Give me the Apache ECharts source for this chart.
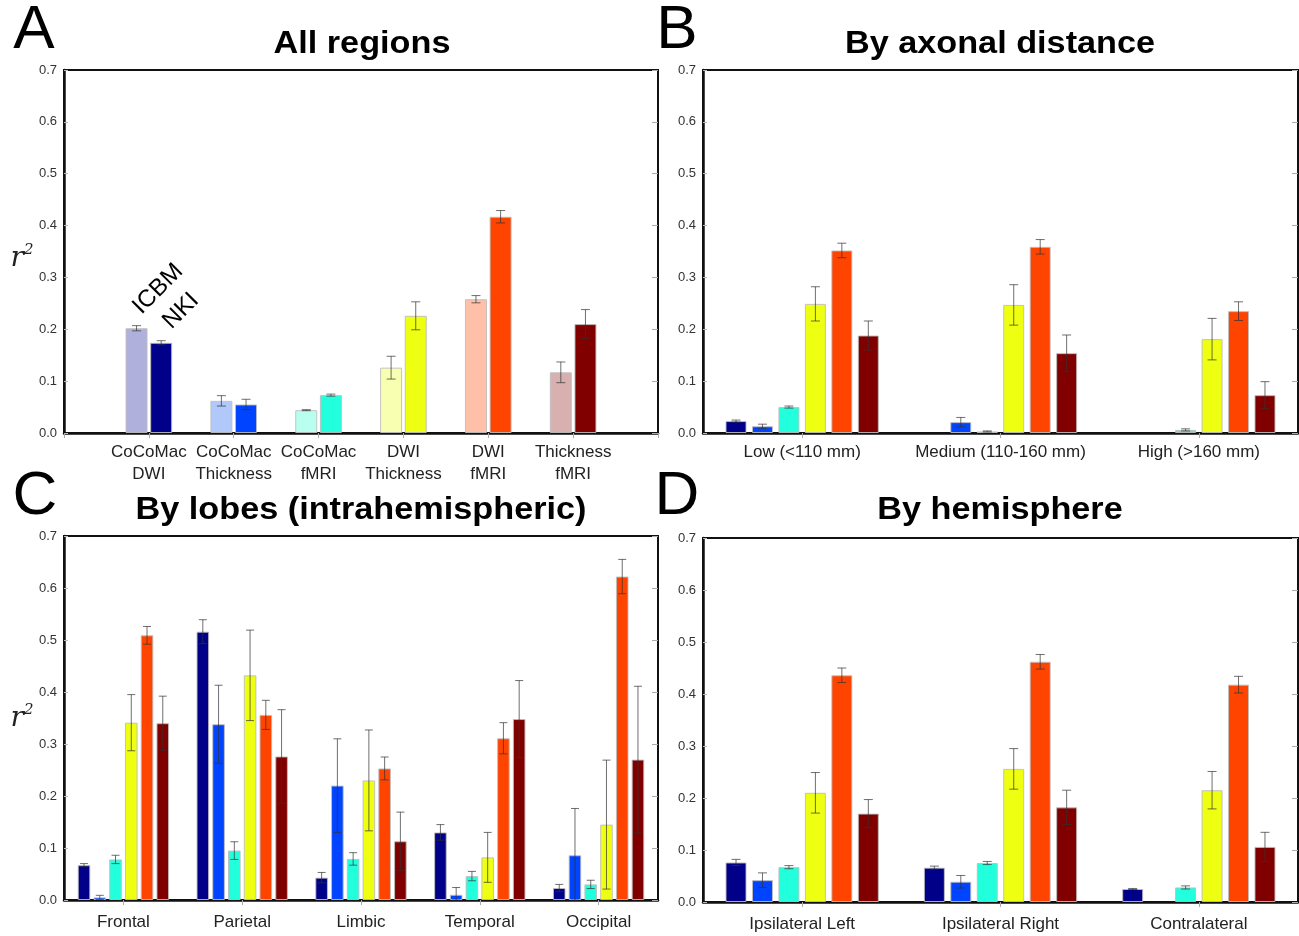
<!DOCTYPE html>
<html>
<head>
<meta charset="utf-8">
<script src="https://cdn.jsdelivr.net/npm/echarts@6/dist/echarts.min.js"></script>
<style>html,body{margin:0;padding:0;background:#fff;}#c{width:1299px;height:936px;}</style>
</head>
<body>
<div id="c"></div>
<script>
// ---------- DATA ----------
const catsA = ['CoCoMac\nDWI', 'CoCoMac\nThickness', 'CoCoMac\nfMRI', 'DWI\nThickness', 'DWI\nfMRI', 'Thickness\nfMRI'];
const icbmA    = [0.202, 0.062, 0.044, 0.126, 0.258, 0.117];
const icbmErrA = [0.005, 0.010, 0.001, 0.022, 0.007, 0.020];
const nkiA     = [0.174, 0.055, 0.073, 0.226, 0.417, 0.210];
const nkiErrA  = [0.004, 0.010, 0.002, 0.027, 0.012, 0.028];

const measures = ['CoCoMac-DWI', 'CoCoMac-Thickness', 'CoCoMac-fMRI', 'DWI-Thickness', 'DWI-fMRI', 'Thickness-fMRI'];

const catsB = ['Low (<110 mm)', 'Medium (110-160 mm)', 'High (>160 mm)'];
const valsB = [
  [0.023, 0.000, 0.000],
  [0.013, 0.021, 0.000],
  [0.050, 0.003, 0.006],
  [0.249, 0.247, 0.181],
  [0.352, 0.359, 0.235],
  [0.188, 0.154, 0.073]
];
const errsB = [
  [0.002, 0.000, 0.000],
  [0.004, 0.009, 0.000],
  [0.002, 0.001, 0.002],
  [0.033, 0.039, 0.040],
  [0.014, 0.014, 0.018],
  [0.028, 0.035, 0.026]
];

const catsC = ['Frontal', 'Parietal', 'Limbic', 'Temporal', 'Occipital'];
const valsC = [
  [0.067, 0.516, 0.043, 0.130, 0.023],
  [0.005, 0.338, 0.220, 0.010, 0.086],
  [0.078, 0.095, 0.079, 0.046, 0.030],
  [0.341, 0.432, 0.230, 0.082, 0.145],
  [0.509, 0.356, 0.253, 0.311, 0.622],
  [0.340, 0.276, 0.113, 0.348, 0.270]
];
const errsC = [
  [0.003, 0.023, 0.010, 0.015, 0.007],
  [0.004, 0.075, 0.090, 0.014, 0.090],
  [0.008, 0.017, 0.012, 0.009, 0.008],
  [0.054, 0.087, 0.097, 0.048, 0.124],
  [0.017, 0.028, 0.022, 0.030, 0.033],
  [0.052, 0.090, 0.056, 0.074, 0.141]
];

const catsD = ['Ipsilateral Left', 'Ipsilateral Right', 'Contralateral'];
const valsD = [
  [0.076, 0.066, 0.025],
  [0.042, 0.039, 0.000],
  [0.067, 0.075, 0.028],
  [0.210, 0.256, 0.215],
  [0.436, 0.462, 0.418],
  [0.170, 0.182, 0.106]
];
const errsD = [
  [0.006, 0.003, 0.001],
  [0.014, 0.012, 0.000],
  [0.003, 0.003, 0.003],
  [0.039, 0.039, 0.036],
  [0.014, 0.014, 0.016],
  [0.027, 0.033, 0.028]
];

// ---------- STYLE ----------
const nkiColors  = ['#000088', '#0044ff', '#22ffdd', '#eeff11', '#ff4400', '#800000'];
const icbmColors = ['#b0b0dc', '#b0c8fa', '#b8fff0', '#f8ffb0', '#ffc0aa', '#d8b0b0'];
const FONT = 'Liberation Sans, Arial, Helvetica, sans-serif';

const panels = [
  {grid: {left: 64, right: 641, top: 70, bottom: 503}, cats: [''].concat(catsA, ['']), gap: false, lm: 8},
  {grid: {left: 703, right: 1, top: 70, bottom: 503}, cats: catsB, gap: true, lm: 8},
  {grid: {left: 64, right: 641, top: 536, bottom: 36}, cats: catsC, gap: true, lm: 11},
  {grid: {left: 703, right: 1, top: 538, bottom: 34}, cats: catsD, gap: true, lm: 11}
];

const grids = [], xAxes = [], yAxes = [], series = [];

panels.forEach((p, i) => {
  grids.push(Object.assign({show: true, borderColor: '#111', borderWidth: 2, backgroundColor: '#fff', containLabel: false}, p.grid));
  xAxes.push({
    type: 'category', gridIndex: i, position: 'bottom', data: p.cats, boundaryGap: p.gap,
    axisLine: {show: true, lineStyle: {color: '#111', width: 2.5}},
    axisTick: {show: false},
    axisLabel: {interval: 0, fontFamily: FONT, fontSize: 17, color: '#222', margin: p.lm, lineHeight: 22},
    splitLine: {show: false}
  });
  xAxes.push({
    type: 'category', gridIndex: i, position: 'top', data: p.cats, boundaryGap: p.gap,
    axisLine: {show: false},
    axisTick: {show: true, inside: true, length: 5, alignWithLabel: true, interval: 0, lineStyle: {color: '#aaa'}},
    axisLabel: {show: false}, splitLine: {show: false}
  });
  yAxes.push({
    type: 'value', gridIndex: i, position: 'left', min: 0, max: 0.7, interval: 0.1,
    axisLine: {show: true, lineStyle: {color: '#111', width: 2.5}},
    axisTick: {show: true, inside: true, length: 4, lineStyle: {color: '#bbb'}},
    axisLabel: {fontFamily: FONT, fontSize: 13, color: '#333', margin: 7, formatter: v => v.toFixed(1)},
    splitLine: {show: false}
  });
  yAxes.push({
    type: 'value', gridIndex: i, position: 'right', min: 0, max: 0.7, interval: 0.1,
    axisLine: {show: false},
    axisTick: {show: true, inside: true, length: 6, lineStyle: {color: '#aaa'}},
    axisLabel: {show: false}, splitLine: {show: false}
  });
});

const barBorder = {borderColor: 'rgba(190,190,190,0.9)', borderWidth: 1};

function errSeries(panelIdx, data, n, pitch, cap) {
  return {
    type: 'custom', xAxisIndex: panelIdx * 2, yAxisIndex: panelIdx * 2, z: 5,
    encode: {x: 0, y: 1}, silent: true,
    data: data,
    renderItem: function (params, api) {
      const x0 = api.value(0), v = api.value(1), e = api.value(2), k = api.value(3);
      if (!(e > 0)) return null;
      const c = api.coord([x0, v]);
      const t = api.coord([x0, v + e]);
      const b = api.coord([x0, Math.max(0, v - e)]);
      const cx = c[0] + (k - (n - 1) / 2) * pitch;
      const st = {stroke: 'rgba(50,50,50,0.7)', lineWidth: 1};
      return {
        type: 'group', children: [
          {type: 'line', shape: {x1: cx, y1: t[1], x2: cx, y2: b[1]}, style: st},
          {type: 'line', shape: {x1: cx - cap / 2, y1: t[1], x2: cx + cap / 2, y2: t[1]}, style: st},
          {type: 'line', shape: {x1: cx - cap / 2, y1: b[1], x2: cx + cap / 2, y2: b[1]}, style: st}
        ]
      };
    }
  };
}

// Panel A: ICBM and NKI
series.push({
  type: 'bar', name: 'ICBM', xAxisIndex: 0, yAxisIndex: 0, barWidth: 22, barGap: '12%',
  data: icbmA.map((v, i) => ({value: [i + 1, v], itemStyle: Object.assign({color: icbmColors[i]}, barBorder)}))
});
series.push({
  type: 'bar', name: 'NKI', xAxisIndex: 0, yAxisIndex: 0, barWidth: 22, barGap: '12%',
  data: nkiA.map((v, i) => ({value: [i + 1, v], itemStyle: Object.assign({color: nkiColors[i]}, barBorder)}))
});
const errA = [];
icbmA.forEach((v, i) => errA.push([i + 1, v, icbmErrA[i], 0]));
nkiA.forEach((v, i) => errA.push([i + 1, v, nkiErrA[i], 1]));
series.push(errSeries(0, errA, 2, 22 * 1.12, 9));

// Panels B, C, D
[[1, valsB, errsB, 21, '26%'], [2, valsC, errsC, 12.6, '25%'], [3, valsD, errsD, 21, '26%']].forEach(cfg => {
  const [pi, vals, errs, bw, gapStr] = cfg;
  const gapFrac = parseFloat(gapStr) / 100;
  const errData = [];
  vals.forEach((arr, k) => {
    series.push({
      type: 'bar', name: measures[k], xAxisIndex: pi * 2, yAxisIndex: pi * 2,
      barWidth: bw, barGap: gapStr,
      itemStyle: Object.assign({color: nkiColors[k]}, barBorder),
      // a zero value draws no bar (no outline) as in the reference
      data: arr.map(v => (v > 0 ? v : '-'))
    });
    arr.forEach((v, j) => errData.push([j, v, errs[k][j], k]));
  });
  series.push(errSeries(pi, errData, 6, bw * (1 + gapFrac), pi === 2 ? 8 : 9));
});

// ---------- TEXT ----------
function txt(x, y, text, font, extra) {
  return Object.assign({type: 'text', x: x, y: y, z: 100, style: {text: text, font: font, fill: '#000', align: 'center', verticalAlign: 'middle', textAlign: 'center', textVerticalAlign: 'middle'}}, extra || {});
}
function rlabel(x, y) {
  return {type: 'text', x: x, y: y, z: 100, style: {
    text: '{r|r}{s|2}', align: 'center', verticalAlign: 'middle', textAlign: 'center', textVerticalAlign: 'middle',
    rich: {
      r: {fontFamily: 'DejaVu Serif, Liberation Serif, serif', fontStyle: 'italic', fontSize: 28, fill: '#222', verticalAlign: 'bottom'},
      s: {fontFamily: 'DejaVu Serif, Liberation Serif, serif', fontStyle: 'italic', fontSize: 15, fill: '#222', verticalAlign: 'top', padding: [0, 0, 15, 0]}
    }
  }};
}
const titleScale = {scaleX: 1.07};

const graphics = [
  txt(34, 31, 'A', '62px ' + FONT),
  txt(677, 31, 'B', '62px ' + FONT),
  txt(35, 497, 'C', '62px ' + FONT),
  txt(677, 497, 'D', '62px ' + FONT),
  txt(362, 44, 'All regions', 'bold 32px ' + FONT, titleScale),
  txt(1000, 44, 'By axonal distance', 'bold 32px ' + FONT, titleScale),
  txt(361, 510, 'By lobes (intrahemispheric)', 'bold 32px ' + FONT, titleScale),
  txt(1000, 510, 'By hemisphere', 'bold 32px ' + FONT, titleScale),
  rlabel(22, 258),
  rlabel(22, 718),
  txt(158, 289, 'ICBM', '24px ' + FONT, {rotation: Math.PI / 4}),
  txt(181, 311, 'NKI', '24px ' + FONT, {rotation: Math.PI / 4})
];

const chart = echarts.init(document.getElementById('c'), null, {renderer: 'canvas'});
chart.setOption({
  animation: false,
  backgroundColor: '#fff',
  grid: grids,
  xAxis: xAxes,
  yAxis: yAxes,
  series: series,
  graphic: graphics
});
</script>
</body>
</html>
